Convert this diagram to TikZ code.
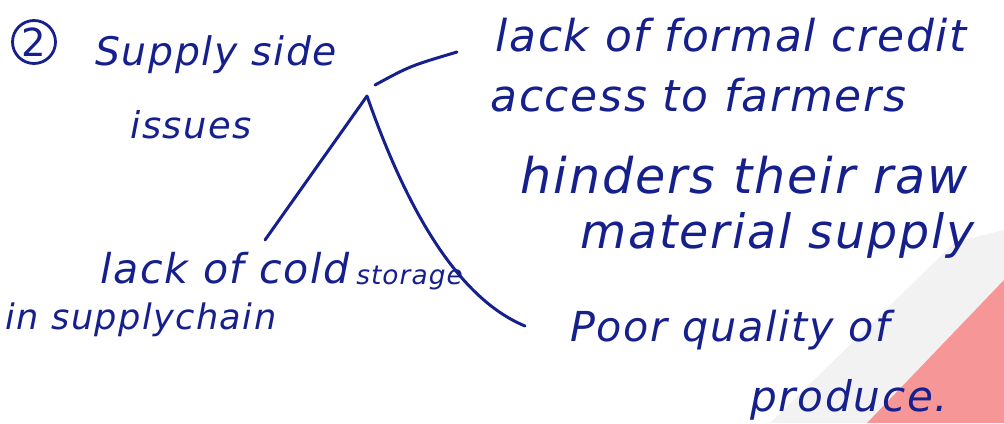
\documentclass[tikz,border=0pt]{standalone}
\usepackage{fontspec}
\setmainfont{DejaVu Sans}[LetterSpace=4]
\usepackage{tikz}
\definecolor{ink}{RGB}{22,32,140}
\definecolor{stain}{RGB}{246,150,150}
\begin{document}
\begin{tikzpicture}[
                    x=0.02cm, y=-0.02cm,
                    every node/.style={
                        text=ink,
                        inner sep=0pt,
                        anchor=west
                    },
                    hand/.style={font=\fontsize{#1}{#1}\selectfont\itshape},
                    stroke/.style={draw=ink, line width=1.7pt, line cap=round}
                ]
                    \useasboundingbox (0,0) rectangle (1004,423);
                    \fill[black!5] (770,423) -- (955,242) -- (1004,230) -- (1004,280) -- (867,423) -- cycle;
                    \fill[stain] (867,423) -- (1004,280) -- (1004,423) -- cycle;

                    \node[anchor=center, circle, draw=ink, line width=1.6pt, minimum size=0.86cm,
                          font=\fontsize{22}{24}\selectfont] (num) at (34,42) {2};
                    \node[hand=22.4] (supply) at (95,55) {Supply side};
                    \node[hand=21] (issues) at (130,125) {issues};
                    \node[hand=25] (credit) at (495,35) {lack of formal credit};
                    \node[hand=25] (access) at (490,95) {access to farmers};
                    \node[hand=28] (hinder) at (520,175) {hinders their raw};
                    \node[hand=27] (material) at (580,235) {material supply};
                    \node[hand=23.4] (cold) at (100,268) {lack of cold};
                    \node[hand=15] (storage) at (356,278) {storage};
                    \node[hand=20] (chain) at (5,320) {in supplychain};
                    \node[hand=23.5] (poor) at (570,330) {Poor quality of};
                    \node[hand=24] (produce) at (750,400) {produce.};

                    \coordinate (fork) at (367,96);
                    \coordinate (topstart) at (375,85);
                    \coordinate (topend) at (457,52);
                    \coordinate (leftend) at (265,240);
                    \coordinate (rightend) at (525,326);

                    % Edges
                    \draw[stroke] (topstart) .. controls (410,66) .. (topend);
                    \draw[stroke] (fork) -- (leftend);
                    \draw[stroke] (fork) .. controls (400,190) and (450,295) .. (rightend);
                \end{tikzpicture}
\end{document}
